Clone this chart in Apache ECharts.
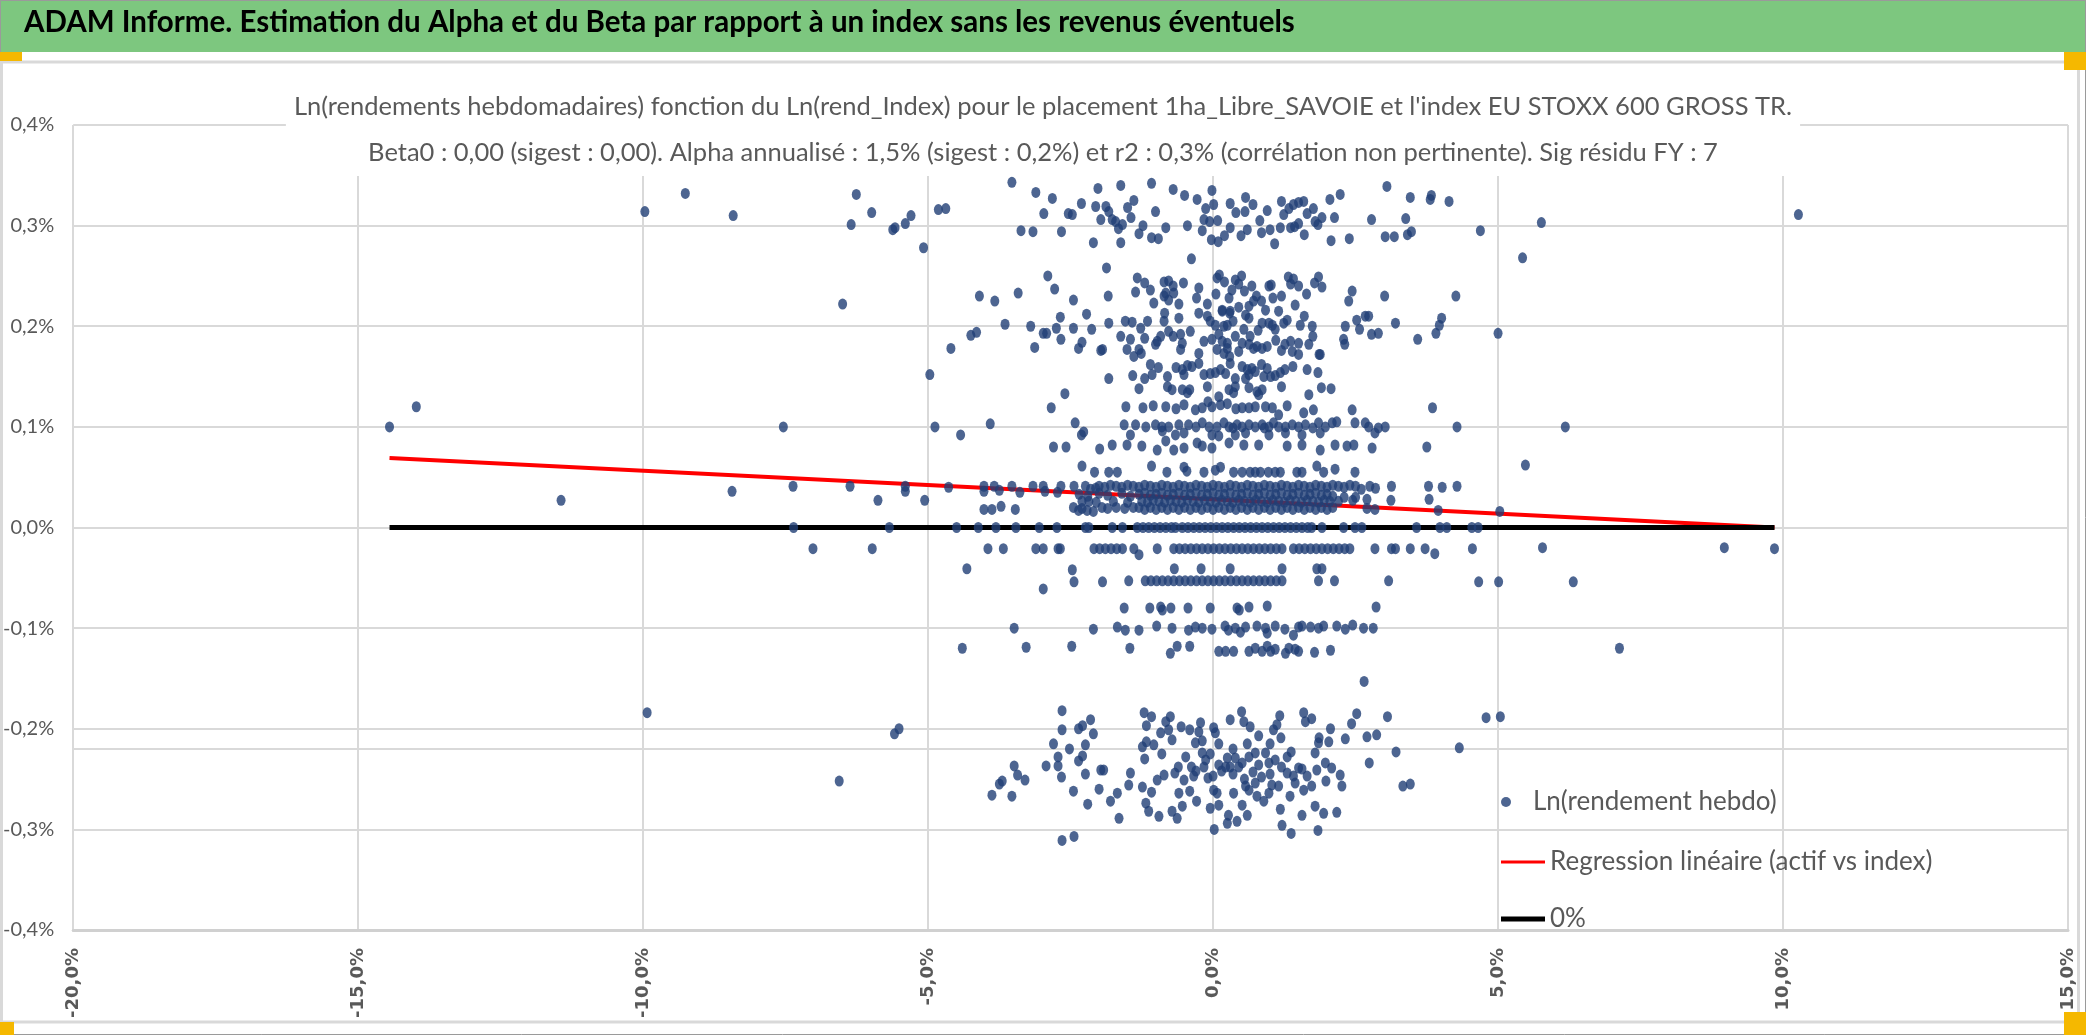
<!DOCTYPE html>
<html>
<head>
<meta charset="utf-8">
<title>ADAM - Alpha et Beta</title>
<script src="https://cdn.jsdelivr.net/npm/echarts/dist/echarts.min.js"></script>
<style>
  html, body { margin: 0; padding: 0; background: #fff; }
  #adam { width: 2086px; height: 1035px; }
</style>
</head>
<body>
<div id="adam"></div>
<script>
// titres
var headerTitle = 'ADAM Informe. Estimation du Alpha et du Beta par rapport à un index sans les revenus éventuels';
var chartTitle = [
  "Ln(rendements hebdomadaires) fonction du Ln(rend_Index) pour le placement 1ha_Libre_SAVOIE et l'index EU STOXX 600 GROSS TR.",
  'Beta0 : 0,00 (sigest : 0,00). Alpha annualisé : 1,5% (sigest : 0,2%) et r2 : 0,3% (corrélation non pertinente). Sig résidu FY : 7'
];
var seriesNames = ['Ln(rendement hebdo)', 'Regression linéaire (actif vs index)', '0%'];

// axes (en %)
var xTicks = [-20, -15, -10, -5, 0, 5, 10, 15];
var yTicks = [-0.4, -0.3, -0.2, -0.1, 0, 0.1, 0.2, 0.3, 0.4];
var extraGridY = -0.223;

// droites : [x index %, y actif %]
var regression = [[-14.45, 0.069], [9.85, 0.000]];
var zeroLine = [[-14.45, 0], [9.85, 0]];

// points : [ln rend index %, ln rend hebdo %]
var ptsFarLeft = [[-14.45,0.100],[-13.98,0.120],[-11.44,0.027],[-9.97,0.314],[-9.26,0.332],[-8.42,0.310],[-8.44,0.036],[-9.93,-0.184]];

var ptsUpperLeft = [[-3.53,0.343],[-6.26,0.331],[-5.99,0.313],[-6.35,0.301],[-5.62,0.296],[-5.58,0.298],[-5.40,0.302],[-5.30,0.310],[-5.08,0.278],[-4.82,0.316],[-4.69,0.317],[-3.11,0.333],[-2.82,0.327],[-2.97,0.312],[-2.54,0.312],[-2.47,0.311],[-2.31,0.322],[-2.02,0.337],[-2.06,0.319],[-1.97,0.306],[-3.37,0.295],[-3.16,0.294],[-2.66,0.294],[-2.10,0.283],
  [-6.50,0.222],[-2.90,0.250],[-2.78,0.237],[-4.10,0.230],[-3.83,0.225],[-3.42,0.233],[-2.45,0.226],[-2.68,0.209],[-2.22,0.212],[-3.65,0.202],[-3.20,0.200],[-2.75,0.198],[-2.98,0.193],[-2.92,0.193],[-2.45,0.198],[-2.13,0.197],[-2.67,0.187],[-2.30,0.184],[-2.36,0.178],[-1.97,0.176],[-3.13,0.179],[-4.25,0.191],[-4.15,0.194],[-4.60,0.178],[-4.97,0.152],[-2.60,0.133],[-2.84,0.119],
  [-7.54,0.100],[-4.88,0.100],[-4.43,0.092],[-3.91,0.103],[-2.42,0.104],[-2.31,0.092],[-2.27,0.095],[-2.80,0.080],[-2.58,0.080],[-1.99,0.078]];

var ptsUpperTop = [[-1.62,0.340],[-1.08,0.342],[-0.70,0.336],[-1.39,0.325],[-1.01,0.314],[-1.88,0.319],[-1.83,0.314],[-1.71,0.304],[-1.66,0.297],[-1.59,0.301],[-1.77,0.306],[-1.44,0.308],[-1.23,0.300],[-0.83,0.298],[-1.08,0.288],[-0.96,0.287],[-1.62,0.283],
  [-0.28,0.326],[-0.02,0.335],[-0.13,0.317],[0.01,0.321],[-0.16,0.306],[-0.06,0.304],[0.08,0.305],[-0.19,0.295],[-0.03,0.286],[0.09,0.284],[0.57,0.328],[0.70,0.321],[0.40,0.313],[0.56,0.314],[0.82,0.305],[0.60,0.296],[0.49,0.290],[0.85,0.293],[1.08,0.282],
  [1.20,0.324],[1.24,0.311],[1.33,0.317],[1.41,0.321],[1.50,0.323],[1.59,0.324],[1.18,0.298],[1.36,0.298],[1.43,0.299],[1.50,0.302],[1.76,0.317],[1.91,0.308],[1.84,0.301],[1.79,0.304],[2.05,0.326],[2.23,0.331],[2.13,0.308],[2.07,0.285],[2.39,0.287],[2.78,0.306],
  [3.05,0.339],[3.38,0.307],[3.46,0.328],[3.83,0.330],[3.81,0.326],[4.14,0.324],[3.02,0.289],[3.18,0.289],[3.41,0.291],[3.48,0.294],[-0.38,0.267],[-1.87,0.258],[4.69,0.295],[5.43,0.268],[5.76,0.303],[10.27,0.311],
  [-1.50,0.318],[-0.50,0.330],[0.30,0.322],[0.95,0.315],[1.65,0.312],[-0.45,0.300],[0.30,0.298],[1.00,0.296],[-1.30,0.292],[0.20,0.290],[1.60,0.291]];

var ptsUpperMid = [[-1.33,0.248],[-1.20,0.243],[-1.36,0.234],[-1.84,0.230],[-1.04,0.223],[-0.86,0.244],[-0.78,0.245],[-0.52,0.243],[-0.83,0.233],[-0.78,0.226],[-0.69,0.233],[-0.86,0.230],[-0.25,0.238],[-0.29,0.228],[0.07,0.248],[0.11,0.251],[0.39,0.246],[0.50,0.250],[0.33,0.236],[0.28,0.228],[0.16,0.216],[0.29,0.213],[0.45,0.219],[0.68,0.240],[0.76,0.230],[0.63,0.220],[0.71,0.225],[0.57,0.211],[0.63,0.208],[0.92,0.216],[0.98,0.240],[1.02,0.241],[1.32,0.249],[1.41,0.247],[1.36,0.242],[1.50,0.240],[1.64,0.232],[1.44,0.221],[1.78,0.243],[1.85,0.249],[1.91,0.239],[2.44,0.235],[2.38,0.225],[3.01,0.230],[4.26,0.230],
  [-0.70,0.240],[-0.60,0.222],[0.05,0.232],[0.20,0.244],[0.55,0.235],[0.85,0.225],[1.15,0.215],[1.20,0.230],[-0.10,0.222],[1.05,0.228],[0.45,0.242],[-1.10,0.236],
  [-1.83,0.203],[-1.54,0.205],[-1.42,0.204],[-1.27,0.198],[-1.62,0.190],[-1.45,0.187],[-1.51,0.177],[-1.39,0.170],[-1.26,0.173],[-1.30,0.177],[-1.94,0.177],[-0.98,0.185],[-0.92,0.190],[-1.01,0.182],[-0.78,0.195],[-0.86,0.205],[-0.85,0.213],[-0.60,0.208],[-0.57,0.192],[-0.54,0.183],[-0.57,0.177],[-0.25,0.173],[-0.25,0.213],[-0.10,0.210],[-0.16,0.185],[-0.05,0.205],[0.04,0.201],[0.16,0.215],[0.19,0.200],[0.25,0.201],[0.30,0.215],[-0.02,0.187],[0.07,0.177],[0.16,0.185],[0.25,0.183],[0.29,0.170],[0.19,0.173],[0.25,0.178],
  [0.39,0.190],[0.45,0.175],[0.54,0.197],[0.51,0.183],[0.63,0.182],[0.71,0.178],[0.77,0.180],[0.86,0.178],[0.95,0.180],[0.79,0.196],[0.86,0.203],[0.98,0.203],[1.09,0.197],[1.04,0.201],[1.24,0.203],[1.30,0.206],[1.26,0.182],[1.36,0.185],[1.50,0.183],[1.39,0.175],[1.50,0.172],[1.53,0.201],[1.74,0.200],[1.75,0.190],[1.68,0.182],[1.88,0.172],[2.32,0.200],[2.29,0.187],[2.31,0.182],[2.52,0.206],[2.67,0.210],[2.73,0.210],[2.57,0.197],[2.78,0.192],[2.90,0.193],[3.20,0.203],[3.59,0.187],[3.91,0.193],[3.97,0.201],[4.01,0.208],[5.00,0.193],
  [-1.15,0.205],[-0.40,0.195],[0.10,0.192],[0.65,0.190],[1.10,0.186],[1.60,0.210],[-0.70,0.190],[1.20,0.176],[-1.20,0.188],[0.35,0.205],
  [-1.83,0.148],[-1.41,0.151],[-1.20,0.148],[-1.07,0.152],[-0.96,0.159],[-0.65,0.159],[-0.54,0.157],[-0.45,0.161],[-0.37,0.160],[-0.51,0.152],[-0.16,0.152],[-0.05,0.153],[0.04,0.154],[0.13,0.157],[0.22,0.153],[0.39,0.148],[0.51,0.160],[0.60,0.157],[0.68,0.158],[0.57,0.148],[0.63,0.152],[0.74,0.155],[0.89,0.150],[1.01,0.150],[1.09,0.151],[1.18,0.154],[1.26,0.157],[1.65,0.157],[1.84,0.154],[1.86,0.172],
  [-1.10,0.162],[-0.25,0.163],[0.30,0.163],[0.85,0.162],[1.40,0.160],[-0.80,0.150],[0.95,0.158],
  [-0.80,0.140],[-0.72,0.137],[-0.54,0.137],[-0.41,0.137],[-0.45,0.134],[0.28,0.137],[0.39,0.140],[0.36,0.134],[0.63,0.139],[0.77,0.135],[0.86,0.137],[0.80,0.132],[1.68,0.132],[1.90,0.139],[2.07,0.138],
  [-0.10,0.140],[1.20,0.140],[0.10,0.130],[-1.30,0.138]];

var ptsBand10 = [[-1.53,0.120],[-1.23,0.119],[-0.83,0.120],[-0.51,0.122],[-0.31,0.117],[-0.19,0.119],[-0.09,0.125],[-0.02,0.120],[0.13,0.122],[0.25,0.123],[0.51,0.119],[0.63,0.119],[0.74,0.120],[0.92,0.120],[1.04,0.119],[1.15,0.112],[1.59,0.114],[1.76,0.117],[2.44,0.117],[3.85,0.119],
  [-0.65,0.118],[0.40,0.118],[1.30,0.121],[-1.05,0.121],
  [-1.56,0.102],[-1.36,0.102],[-1.18,0.100],[-1.01,0.102],[-0.78,0.100],[-0.60,0.102],[-0.43,0.102],[-0.19,0.104],[-0.07,0.100],[0.07,0.100],[0.19,0.104],[0.28,0.100],[0.42,0.102],[0.51,0.100],[0.63,0.102],[0.74,0.100],[0.86,0.102],[0.98,0.100],[1.06,0.104],[1.27,0.100],[1.39,0.102],[1.50,0.100],[1.62,0.102],[1.85,0.104],[1.97,0.100],[2.09,0.104],[2.17,0.105],[2.49,0.104],[2.67,0.104],[2.73,0.100],[2.90,0.099],[3.02,0.100],[4.28,0.100],[6.18,0.100],
  [-0.90,0.100],[-0.30,0.100],[0.35,0.099],[0.90,0.099],[1.15,0.100],[1.75,0.099],
  [-1.45,0.092],[-0.89,0.096],[-0.66,0.092],[-0.51,0.094],[-0.02,0.092],[0.10,0.091],[0.39,0.092],[0.57,0.094],[0.98,0.092],[1.27,0.094],[1.56,0.092],[1.88,0.094],[2.84,0.094],
  [-1.77,0.082],[-1.51,0.082],[-1.25,0.081],[-0.98,0.077],[-0.83,0.086],[-0.69,0.077],[-0.51,0.079],[-0.28,0.084],[-0.19,0.081],[-0.02,0.079],[0.28,0.084],[0.54,0.082],[0.80,0.082],[1.30,0.081],[1.56,0.082],[1.88,0.077],[2.14,0.082],[2.35,0.081],[2.47,0.082],[2.79,0.079],[3.75,0.080],[5.48,0.062]];

var band055 = [[-2.30,0.061],[-2.08,0.055],[-1.83,0.055],[-1.68,0.055],[-1.08,0.061],[-0.81,0.055],[-0.51,0.060],[-0.46,0.056],[-0.16,0.055],[0.04,0.057],[0.13,0.060],[0.36,0.055],[0.51,0.055],[0.65,0.055],[0.74,0.055],[0.83,0.055],[0.97,0.055],[1.09,0.055],[1.18,0.055],[1.47,0.055],[1.56,0.055],[1.82,0.061],[1.94,0.055],[2.14,0.058],[2.49,0.055]];

var band041 = [[-7.37,0.041],[-6.37,0.041],[-5.40,0.041],[-5.40,0.036],[-5.88,0.027],[-5.06,0.027],[-4.64,0.040],[-4.02,0.041],[-4.02,0.036],[-3.84,0.041],[-3.75,0.037],[-3.53,0.041],[-3.39,0.035],[-3.16,0.041],[-2.98,0.041],[-2.95,0.036],[-2.73,0.035],[-2.67,0.041],[-2.44,0.041],[-2.24,0.041],[-2.15,0.038],[-2.06,0.039],
  [-2.0,0.041],[-1.9,0.040],[-1.8,0.042],[-1.7,0.041],[-1.6,0.040],[-1.5,0.042],[-1.4,0.041],[-1.3,0.040],[-1.2,0.042],[-1.1,0.041],[-1.0,0.040],[-0.9,0.042],[-0.8,0.041],[-0.7,0.040],[-0.6,0.042],[-0.5,0.041],[-0.4,0.040],[-0.3,0.042],[-0.2,0.041],[-0.1,0.040],[0.0,0.042],[0.1,0.041],[0.2,0.040],[0.3,0.042],[0.4,0.041],[0.5,0.040],[0.6,0.042],[0.7,0.041],[0.8,0.040],[0.9,0.042],[1.0,0.041],[1.1,0.040],[1.2,0.042],[1.3,0.041],[1.4,0.040],[1.5,0.042],[1.6,0.041],[1.7,0.040],[1.8,0.042],[1.9,0.041],[2.0,0.040],[2.1,0.042],[2.2,0.041],[2.3,0.040],[2.4,0.042],[2.5,0.041],[2.6,0.038],[2.75,0.041],[2.85,0.039],
  [3.13,0.041],[3.78,0.041],[4.02,0.040],[4.28,0.041]];

var band033 = [[-2.35,0.033],[-2.2,0.031],[-2.0,0.034],[-1.85,0.032],[-1.6,0.034],[-1.45,0.031],
  [-1.3,0.033],[-1.2,0.034],[-1.1,0.032],[-1.0,0.033],[-0.9,0.034],[-0.8,0.032],[-0.7,0.033],[-0.6,0.034],[-0.5,0.032],[-0.4,0.033],[-0.3,0.034],[-0.2,0.032],[-0.1,0.033],[0.0,0.034],[0.1,0.032],[0.2,0.033],[0.3,0.034],[0.4,0.032],[0.5,0.033],[0.6,0.034],[0.7,0.032],[0.8,0.033],[0.9,0.034],[1.0,0.032],[1.1,0.033],[1.2,0.034],[1.3,0.032],[1.4,0.033],[1.5,0.034],[1.6,0.032],[1.7,0.033],[1.8,0.034],[1.9,0.032],[2.0,0.033],[2.1,0.031],
  [2.3,0.030],[2.5,0.030],[2.7,0.028],[3.12,0.027],[3.79,0.028],[5.03,0.016]];

var band026 = [[-2.3,0.026],[-2.05,0.025],[-1.75,0.026],[-1.5,0.025],
  [-1.25,0.026],[-1.15,0.025],[-1.05,0.027],[-0.95,0.026],[-0.85,0.025],[-0.75,0.027],[-0.65,0.026],[-0.55,0.025],[-0.45,0.027],[-0.35,0.026],[-0.25,0.025],[-0.15,0.027],[-0.05,0.026],[0.05,0.025],[0.15,0.027],[0.25,0.026],[0.35,0.025],[0.45,0.027],[0.55,0.026],[0.65,0.025],[0.75,0.027],[0.85,0.026],[0.95,0.025],[1.05,0.027],[1.15,0.026],[1.25,0.025],[1.35,0.027],[1.45,0.026],[1.55,0.025],[1.65,0.027],[1.75,0.026],[1.85,0.025],[1.95,0.027],[2.05,0.026],
  [2.2,0.026],[2.45,0.027]];

var band020 = [[-4.02,0.018],[-3.88,0.018],[-3.72,0.021],[-3.47,0.018],[-2.36,0.017],[-2.21,0.017],[-2.10,0.016],[-2.18,0.026],
  [-2.45,0.020],[-2.3,0.019],[-1.95,0.020],[-1.85,0.019],[-1.7,0.020],[-1.55,0.019],[-1.4,0.020],
  [-1.3,0.020],[-1.2,0.018],[-1.1,0.020],[-1.0,0.018],[-0.9,0.020],[-0.8,0.018],[-0.7,0.020],[-0.6,0.018],[-0.5,0.020],[-0.4,0.018],[-0.3,0.020],[-0.2,0.018],[-0.1,0.020],[0.0,0.018],[0.1,0.020],[0.2,0.018],[0.3,0.020],[0.4,0.018],[0.5,0.020],[0.6,0.018],[0.7,0.020],[0.8,0.018],[0.9,0.020],[1.0,0.018],[1.1,0.020],[1.2,0.018],[1.3,0.020],[1.4,0.018],[1.5,0.020],[1.6,0.018],[1.7,0.020],[1.8,0.018],[1.9,0.020],[2.0,0.018],[2.1,0.020],
  [2.70,0.019],[2.84,0.018],[3.95,0.017]];

var band000 = [[-7.36,0],[-5.68,0],[-4.50,0],[-4.12,0],[-3.81,0],[-3.46,0],[-3.05,0],[-2.74,0],[-2.24,0],[-2.18,0],[-1.77,0],[-1.59,0],
  [-1.33,0],[-1.23,0],[-1.13,0],[-1.03,0],[-0.93,0],[-0.83,0],[-0.73,0],[-0.66,0],
  [-0.54,0],[-0.44,0],[-0.34,0],[-0.24,0],[-0.14,0],[-0.04,0],[0.06,0],[0.16,0],[0.26,0],[0.36,0],[0.46,0],[0.56,0],[0.66,0],[0.76,0],[0.86,0],[0.96,0],[1.06,0],[1.16,0],[1.26,0],[1.36,0],[1.46,0],[1.56,0],[1.66,0],[1.73,0],
  [1.91,0],[2.29,0],[2.49,0],[2.61,0],[3.57,0],[3.98,0],[4.10,0],[4.54,0],[4.65,0]];

var bandM021 = [[-7.02,-0.021],[-5.98,-0.021],[-3.95,-0.021],[-3.68,-0.021],[-3.11,-0.021],[-2.98,-0.021],[-2.72,-0.021],[-2.68,-0.021],
  [-2.09,-0.021],[-1.99,-0.021],[-1.89,-0.021],[-1.79,-0.021],[-1.69,-0.021],[-1.59,-0.021],[-1.39,-0.021],[-1.30,-0.027],[-0.98,-0.021],
  [-0.69,-0.021],[-0.59,-0.021],[-0.49,-0.021],[-0.39,-0.021],[-0.29,-0.021],[-0.19,-0.021],[-0.09,-0.021],[0.01,-0.021],[0.11,-0.021],[0.21,-0.021],[0.31,-0.021],[0.41,-0.021],[0.51,-0.021],[0.61,-0.021],[0.71,-0.021],[0.81,-0.021],[0.91,-0.021],[1.01,-0.021],[1.11,-0.021],[1.21,-0.021],
  [1.41,-0.021],[1.51,-0.021],[1.61,-0.021],[1.71,-0.021],[1.81,-0.021],[1.91,-0.021],[2.01,-0.021],[2.11,-0.021],[2.21,-0.021],[2.31,-0.021],[2.40,-0.021],
  [2.84,-0.021],[3.13,-0.021],[3.20,-0.021],[3.46,-0.021],[3.72,-0.021],[3.89,-0.026],[4.55,-0.021],[5.78,-0.020],[8.97,-0.020],[9.85,-0.021]];

var bandM041 = [[-4.32,-0.041],[-2.47,-0.042],[-0.68,-0.041],[-0.21,-0.041],[0.30,-0.041],[1.21,-0.041],[1.82,-0.041],[1.91,-0.041]];

var bandM053 = [[-2.98,-0.061],[-2.44,-0.054],[-1.94,-0.054],[-1.48,-0.053],
  [-1.19,-0.053],[-1.09,-0.053],[-0.99,-0.053],[-0.89,-0.053],[-0.79,-0.053],[-0.69,-0.053],[-0.59,-0.053],[-0.49,-0.053],[-0.39,-0.053],[-0.29,-0.053],[-0.19,-0.053],[-0.09,-0.053],[0.01,-0.053],[0.11,-0.053],[0.21,-0.053],[0.31,-0.053],[0.41,-0.053],[0.51,-0.053],[0.61,-0.053],[0.71,-0.053],[0.81,-0.053],[0.91,-0.053],[1.01,-0.053],[1.11,-0.053],[1.21,-0.053],
  [1.85,-0.053],[2.13,-0.053],[3.08,-0.053],[4.66,-0.054],[5.01,-0.054],[6.32,-0.054]];

var bandM080 = [[-1.56,-0.080],[-1.11,-0.080],[-0.92,-0.079],[-0.89,-0.082],[-0.74,-0.080],[-0.44,-0.080],[-0.05,-0.080],[0.42,-0.080],[0.46,-0.082],[0.63,-0.079],[0.95,-0.078],[2.86,-0.079]];

var bandM100 = [[-3.49,-0.100],[-2.10,-0.101],[-1.68,-0.099],[-1.54,-0.102],[-1.30,-0.102],[-0.99,-0.098],[-0.72,-0.100],[-0.43,-0.102],[-0.31,-0.099],[-0.19,-0.100],[-0.02,-0.101],[0.21,-0.098],[0.27,-0.102],[0.39,-0.100],[0.48,-0.104],[0.57,-0.099],[0.77,-0.098],[0.92,-0.100],[0.95,-0.105],[1.09,-0.098],[1.26,-0.101],[1.41,-0.107],[1.50,-0.099],[1.56,-0.098],[1.71,-0.099],[1.85,-0.100],[1.94,-0.098],[2.17,-0.098],[2.32,-0.101],[2.45,-0.097],[2.64,-0.100],[2.81,-0.100]];

var bandM120 = [[-4.40,-0.120],[-3.28,-0.119],[-2.48,-0.118],[-1.46,-0.120],[-0.75,-0.125],[-0.63,-0.118],[-0.41,-0.118],[0.10,-0.123],[0.22,-0.123],[0.36,-0.123],[0.63,-0.123],[0.74,-0.120],[0.86,-0.123],[0.95,-0.118],[1.01,-0.123],[1.09,-0.121],[1.27,-0.125],[1.33,-0.120],[1.44,-0.121],[1.50,-0.123],[1.78,-0.124],[2.06,-0.122],[2.65,-0.153],[7.13,-0.120]];

var ptsLowerLeft = [[-5.59,-0.205],[-5.51,-0.200],[-6.56,-0.252],[-2.65,-0.182],[-2.65,-0.201],[-2.36,-0.200],[-2.29,-0.197],[-2.15,-0.191],[-2.52,-0.220],[-2.24,-0.216],[-2.72,-0.228],[-2.72,-0.237],[-2.29,-0.227],[-2.36,-0.232],[-2.93,-0.237],[-3.49,-0.237],[-3.43,-0.246],[-3.30,-0.251],[-3.70,-0.252],[-3.75,-0.255],[-3.88,-0.266],[-3.53,-0.267],[-2.66,-0.248],[-2.24,-0.245],[-1.97,-0.241],[-2.65,-0.311],[-2.44,-0.307],
  [-2.10,-0.205],[-2.00,-0.260],[-2.20,-0.275],[-2.45,-0.262],[-2.80,-0.215]];

var ptsLower = [[-1.21,-0.184],[-1.08,-0.188],[-1.17,-0.197],[-0.83,-0.193],[-0.75,-0.188],[-0.92,-0.204],[-0.78,-0.201],[-0.72,-0.211],[-0.56,-0.198],[-0.41,-0.201],[-0.22,-0.194],[-0.25,-0.203],[-0.31,-0.214],[-0.19,-0.212],[0.01,-0.199],[0.04,-0.204],[0.30,-0.191],[0.50,-0.183],[0.54,-0.193],[0.65,-0.198],[0.80,-0.207],[1.06,-0.201],[1.12,-0.196],[1.17,-0.187],[1.19,-0.209],[1.59,-0.184],[1.62,-0.193],[1.73,-0.190],[2.06,-0.200],[1.86,-0.209],[1.85,-0.214],[2.03,-0.213],[2.32,-0.210],[2.43,-0.195],[2.52,-0.185],[2.70,-0.208],[2.87,-0.206],[3.06,-0.188],[3.21,-0.223],[2.74,-0.234],[4.32,-0.219],[4.79,-0.189],[5.04,-0.188],
  [-1.24,-0.218],[-1.17,-0.213],[-1.04,-0.216],[-0.90,-0.225],[-1.20,-0.230],[-0.48,-0.228],[-0.61,-0.238],[-0.67,-0.244],[-0.86,-0.246],[-0.98,-0.251],[-0.51,-0.251],[-0.38,-0.238],[-0.34,-0.247],[-0.19,-0.224],[-0.13,-0.231],[-0.16,-0.238],[-0.09,-0.249],[0.00,-0.247],[0.10,-0.236],[0.25,-0.229],[0.22,-0.238],[0.30,-0.238],[0.39,-0.229],[0.45,-0.238],[0.51,-0.234],[0.63,-0.228],[0.74,-0.224],[0.80,-0.236],[0.92,-0.224],[0.98,-0.234],[1.09,-0.231],[1.30,-0.244],[1.37,-0.223],[1.41,-0.247],[1.50,-0.239],[1.56,-0.240],[1.65,-0.247],[1.79,-0.224],[1.82,-0.241],[1.97,-0.234],[1.98,-0.252],[2.08,-0.239],[2.23,-0.246],[2.26,-0.257],
  [0.15,-0.242],[0.35,-0.245],[0.55,-0.250],[0.70,-0.243],[0.85,-0.248],[1.00,-0.245],[1.20,-0.238],[-0.30,-0.242],[0.60,-0.215],[0.35,-0.220],[0.10,-0.215],[1.00,-0.215],[1.30,-0.228],[-0.05,-0.225],
  [-1.92,-0.241],[-1.45,-0.244],[-1.48,-0.256],[-1.24,-0.258],[-1.08,-0.263],[-1.68,-0.264],[-1.80,-0.272],[-1.18,-0.274],[-1.13,-0.282],[-0.95,-0.287],[-0.72,-0.282],[-0.63,-0.289],[-0.54,-0.277],[-0.60,-0.264],[-0.41,-0.262],[-0.29,-0.272],[-0.05,-0.279],[0.01,-0.261],[0.10,-0.276],[0.07,-0.264],[0.27,-0.286],[0.25,-0.294],[0.42,-0.292],[0.36,-0.264],[0.57,-0.257],[0.60,-0.286],[0.51,-0.276],[0.63,-0.261],[0.74,-0.254],[0.77,-0.267],[0.89,-0.272],[0.98,-0.264],[1.03,-0.256],[1.15,-0.257],[1.18,-0.280],[1.35,-0.267],[1.44,-0.254],[1.59,-0.261],[1.73,-0.257],[1.56,-0.286],[1.79,-0.277],[1.94,-0.284],[2.17,-0.283],[1.21,-0.296],[1.37,-0.304],[1.84,-0.301],[0.02,-0.300],[-1.65,-0.289],[3.33,-0.257],[3.46,-0.255]];

var cloud = [].concat(ptsFarLeft, ptsUpperLeft, ptsUpperTop, ptsUpperMid, ptsBand10, band055, band041, band033, band026, band020, band000, bandM021, bandM041, bandM053, bandM080, bandM100, bandM120, ptsLowerLeft, ptsLower);

function pct(v) {
  var r = Math.round(v * 10) / 10;
  if (Math.abs(r) < 1e-9) r = 0;
  return r.toFixed(1).replace('.', ',') + '%';
}

var grey = '#595959';
var gridGrey = '#d9d9d9';
var legendText = { fontFamily: 'Lato', fontSize: 26, lineHeight: 30, color: grey };

var chart = echarts.init(document.getElementById('adam'));
chart.setOption({
  backgroundColor: '#fff',
  animation: false,
  graphic: [
    { type: 'rect', z: -10, shape: { x: 0, y: 0, width: 2086, height: 52 }, style: { fill: '#7dc77f' } },
    { type: 'rect', z: -10, shape: { x: 0.5, y: 0.5, width: 2085, height: 1034 }, style: { fill: 'none', stroke: '#9a9a9a', lineWidth: 1 } },
    { type: 'rect', z: -9, shape: { x: 1.5, y: 62, width: 2077, height: 960 }, style: { fill: 'none', stroke: gridGrey, lineWidth: 3 } },
    { type: 'rect', z: -8, shape: { x: 0, y: 52, width: 22, height: 9 }, style: { fill: '#f5b800' } },
    { type: 'rect', z: -8, shape: { x: 2064, y: 52, width: 22, height: 18 }, style: { fill: '#f5b800' } },
    { type: 'rect', z: -8, shape: { x: 0, y: 1022, width: 14, height: 13 }, style: { fill: '#f5b800' } },
    { type: 'rect', z: -8, shape: { x: 2064, y: 1012, width: 22, height: 23 }, style: { fill: '#f5b800' } }
  ],
  title: [
    {
      text: headerTitle, left: 24, top: 7, padding: 0,
      textStyle: { fontFamily: 'Lato', fontWeight: 'bold', fontSize: 29.5, color: '#000' }
    },
    {
      text: chartTitle.join('\n'), left: 'center', top: 84,
      padding: [0, 8, 0, 8], backgroundColor: '#fff',
      textStyle: { fontFamily: 'Lato', fontWeight: 'normal', fontSize: 25.5, lineHeight: 46, color: grey }
    }
  ],
  legend: [
    {
      left: 1496, top: 782, itemWidth: 44, itemHeight: 10, textStyle: legendText,
      data: [{ name: seriesNames[0], icon: 'circle' }]
    },
    {
      left: 1496, top: 842, itemWidth: 44, itemHeight: 3, textStyle: legendText,
      data: [{ name: seriesNames[1], icon: 'rect' }]
    },
    {
      left: 1496, top: 899, itemWidth: 44, itemHeight: 5, textStyle: legendText,
      data: [{ name: seriesNames[2], icon: 'rect' }]
    }
  ],
  grid: { left: 69, right: 18, top: 125, bottom: 105, containLabel: false },
  xAxis: {
    type: 'value', min: xTicks[0], max: xTicks[xTicks.length - 1], interval: 5,
    axisLine: { show: true, onZero: false, lineStyle: { color: '#d0d0d0', width: 3 } },
    axisTick: { show: false },
    splitLine: { show: true, lineStyle: { color: gridGrey, width: 2 } },
    axisLabel: {
      rotate: 90, margin: 18, formatter: pct,
      fontFamily: 'DejaVu Sans', fontWeight: 'bold', fontSize: 18, color: grey
    }
  },
  yAxis: {
    type: 'value', min: yTicks[0], max: yTicks[yTicks.length - 1], interval: 0.1,
    axisLine: { show: true, lineStyle: { color: gridGrey, width: 2 } },
    axisTick: { show: false },
    splitLine: { show: true, lineStyle: { color: gridGrey, width: 2 } },
    axisLabel: { margin: 19, formatter: pct, fontFamily: 'Lato', fontSize: 20, color: grey }
  },
  series: [
    {
      name: seriesNames[0], type: 'scatter', z: 4,
      symbol: 'circle', symbolSize: [9, 11],
      itemStyle: { color: '#203f75' },
      data: cloud,
      markLine: {
        silent: true, symbol: 'none', label: { show: false }, z: 1,
        lineStyle: { color: gridGrey, width: 2, type: 'solid' },
        data: [{ yAxis: extraGridY }]
      }
    },
    {
      name: seriesNames[1], type: 'line', z: 3, symbol: 'none',
      lineStyle: { color: '#ff0000', width: 4 }, itemStyle: { color: '#ff0000' },
      data: regression
    },
    {
      name: seriesNames[2], type: 'line', z: 3, symbol: 'none',
      lineStyle: { color: '#000000', width: 5 }, itemStyle: { color: '#000000' },
      data: zeroLine
    }
  ]
});
</script>
</body>
</html>
